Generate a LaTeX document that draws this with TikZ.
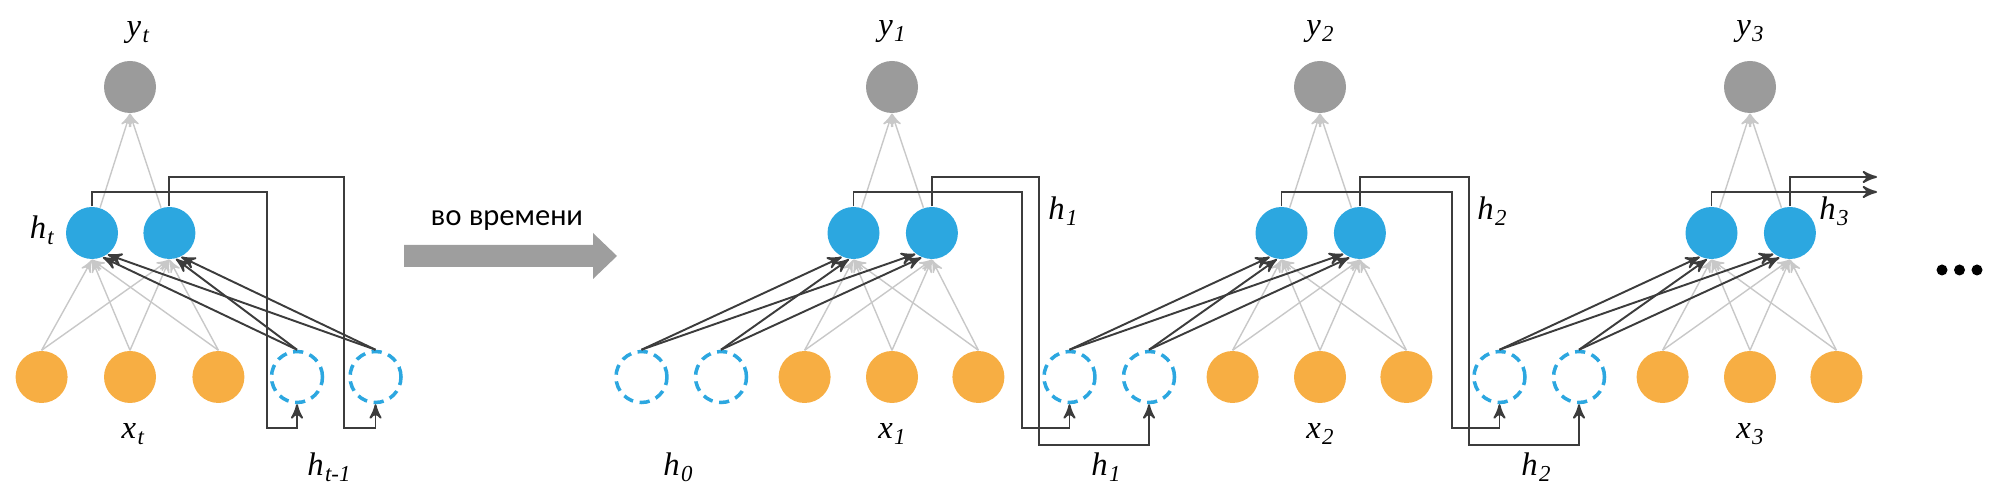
\documentclass[tikz,border=0pt]{standalone}
\usepackage{fontspec}
\setmainfont{Liberation Serif}
\newfontfamily\rufont{Lato}
\usetikzlibrary{arrows, positioning}

\definecolor{hblue}{RGB}{44,167,224}
\definecolor{xorange}{RGB}{247,174,67}
\definecolor{ygray}{RGB}{155,155,155}
\definecolor{wgray}{RGB}{200,200,200}
\definecolor{lineblack}{RGB}{60,60,60}
\definecolor{arrowgray}{RGB}{158,158,158}

\newcommand{\lbl}[2]{\textit{#1}\kern.04em\raisebox{-.18em}{\fontsize{6.5}{6.5}\selectfont\textit{#2}}}

\begin{document}
\begin{tikzpicture}[
  >=stealth',
  font=\fontsize{9.3}{10}\selectfont,
  outnode/.style={circle, fill=ygray, minimum size=.52cm, inner sep=0},
  hidnode/.style={circle, fill=hblue, minimum size=.52cm, inner sep=0},
  innode/.style={circle, fill=xorange, minimum size=.52cm, inner sep=0},
  ctxnode/.style={circle, draw=hblue, line width=1pt, dash pattern=on 2.9pt off 1.9pt, minimum size=.51cm, inner sep=0},
  wline/.style={->, draw=wgray, line width=.4pt},
  recline/.style={->, draw=lineblack, line width=.55pt},
  loopline/.style={->, draw=lineblack, line width=.55pt}]

  \useasboundingbox (0,0) rectangle (20,5);

  % folded network
  \node[outnode] (yt) at (1.30,4.13) {};
  \node[hidnode] (hat) at (0.92,2.67) {};
  \node[hidnode, right=.24cm of hat] (hbt) {};
  \node[innode] (xbt) at (1.30,1.23) {};
  \node[innode, left=.35cm of xbt] (xat) {};
  \node[innode, right=.35cm of xbt] (xct) {};
  \node[ctxnode] (cat) at (2.97,1.23) {};
  \node[ctxnode, right=.24cm of cat] (cbt) {};

  \node (ytl) at (1.38,4.67) {\lbl{y}{t}};
  \node (htl) at (0.42,2.70) {\lbl{h}{t}};
  \node (xtl) at (1.33,0.66) {\lbl{x}{t}};
  \node (hpl) at (3.29,0.33) {\lbl{h}{t-1}};

  \draw[wline] (hat) -- (yt.south);
  \draw[wline] (hbt) -- (yt.south);
  \foreach \n in {xat,xbt,xct}
    \foreach \m in {hat,hbt}
      \draw[wline] (\n.north) -- (\m.south);

  \draw[recline] (cat.north) -- (hat.-66);
  \draw[recline] (cbt.north) -- (hat.-54);
  \draw[recline] (cat.north) -- (hbt.-76);
  \draw[recline] (cbt.north) -- (hbt.-64);

  \draw[loopline] (hat.north) |- (2.67,3.08) -- (2.67,0.72) -| (cat.south);
  \draw[loopline] (hbt.north) |- (3.44,3.23) -- (3.44,0.72) -| (cbt.south);

  % time arrow
  \fill[arrowgray] (4.04,2.55) -- (5.93,2.55) -- (5.93,2.67) -- (6.17,2.44)
    -- (5.93,2.21) -- (5.93,2.33) -- (4.04,2.33) -- cycle;
  \node[font=\rufont\fontsize{8.2}{9}\selectfont] (timelbl) at (5.07,2.79) {во времени};

  % unrolled network
  \foreach \i/\c/\u in {1/8.92/1.71, 2/13.20/1.72, 3/17.50/0.84} {
    \pgfmathtruncatemacro{\p}{\i-1}
    \node[outnode] (y\i) at (\c,4.13) {};
    \node[hidnode] (ha\i) at ({\c-.385},2.67) {};
    \node[hidnode, right=.25cm of ha\i] (hb\i) {};
    \node[innode] (xb\i) at (\c,1.23) {};
    \node[innode, left=.34cm of xb\i] (xa\i) {};
    \node[innode, right=.33cm of xb\i] (xc\i) {};
    \node[ctxnode] (cb\i) at ({\c-1.71},1.23) {};
    \node[ctxnode, left=.25cm of cb\i] (ca\i) {};

    \node (yl\i) at (\c,4.68) {\lbl{y}{\i}};
    \node (xl\i) at (\c,0.66) {\lbl{x}{\i}};
    \node (hl\i) at ({\c+\u},2.89) {\lbl{h}{\i}};
    \node (hp\i) at ({\c-2.14},0.33) {\lbl{h}{\p}};

    \draw[wline] (ha\i) -- (y\i.south);
    \draw[wline] (hb\i) -- (y\i.south);
    \foreach \n in {xa,xb,xc}
      \foreach \m in {ha,hb}
        \draw[wline] (\n\i.north) -- (\m\i.south);

    \draw[recline] (ca\i.north) -- (ha\i.-116);
    \draw[recline] (cb\i.north) -- (ha\i.-100);
    \draw[recline] (ca\i.north) -- (hb\i.-128);
    \draw[recline] (cb\i.north) -- (hb\i.-113);

    \ifnum\i>1
      \draw[loopline] (ha\p.north) |- ({\c-2.98},3.08) -- ({\c-2.98},0.72) -| (ca\i.south);
      \draw[loopline] (hb\p.north) |- ({\c-2.81},3.23) -- ({\c-2.81},0.55) -| (cb\i.south);
    \fi
  }

  \coordinate (outa) at (18.77,3.08);
  \coordinate (outb) at (18.77,3.23);
  \draw[loopline] (ha3.north) |- (outa);
  \draw[loopline] (hb3.north) |- (outb);

  \foreach \d in {19.42,19.595,19.77}
    \fill (\d,2.30) circle (.055);
\end{tikzpicture}
\end{document}
